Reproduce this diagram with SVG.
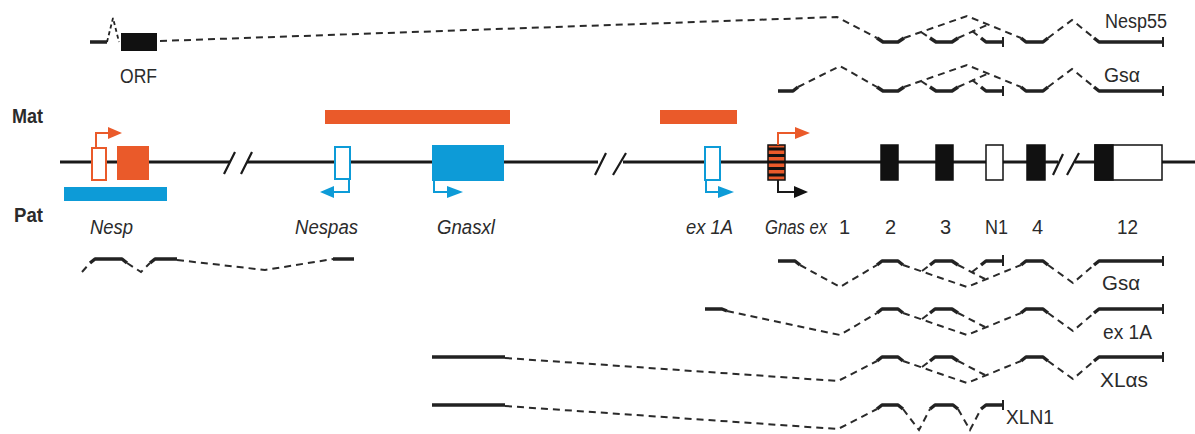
<svg xmlns="http://www.w3.org/2000/svg" width="1195" height="434" viewBox="0 0 1195 434">
<defs>
<style>
.lbl{font-family:"Liberation Sans",Arial,sans-serif;font-size:20px;fill:#2b2b2b}
.it{font-style:italic}
.bold{font-family:"Liberation Sans",Arial,sans-serif;font-size:21px;font-weight:bold;fill:#2b2b2b}
.main{stroke:#1a1a1a;stroke-width:3;fill:none}
.slash{stroke:#1a1a1a;stroke-width:2.2;fill:none}
.dash{stroke:#2a2a2a;stroke-width:2;fill:none;stroke-dasharray:7 5}
.seg{stroke:#222;stroke-width:3.5;fill:none;stroke-linejoin:round}
.bar{stroke:#222;stroke-width:2;fill:none}
.org{fill:#ea5a2a}
.blu{fill:#0d9bd7}
.ob{stroke:#ea5a2a;stroke-width:2;fill:#fff}
.bb{stroke:#0d9bd7;stroke-width:2;fill:#fff}
.oarr{stroke:#ea5a2a;stroke-width:2;fill:none}
.barr{stroke:#0d9bd7;stroke-width:2;fill:none}
.karr{stroke:#1a1a1a;stroke-width:2;fill:none}
.exon{fill:#111;stroke:#111;stroke-width:1.5}
.wexon{fill:#fff;stroke:#111;stroke-width:1.5}
</style>
</defs>
<rect width="1195" height="434" fill="#fff"/>

<g id="genome-line">
<path class="main" d="M60,162H230M247,162H598M623,162H1058M1075,162H1195"/>
<path class="slash" d="M224,174L235,152M241,174L252,152M595,175L606,153M613,175L626,153M1053,175L1063,154M1067,175L1079,153"/>
</g>

<g id="labels-side">
<text class="bold" x="12" y="123" textLength="31" lengthAdjust="spacingAndGlyphs">Mat</text>
<text class="bold" x="14" y="222" textLength="29" lengthAdjust="spacingAndGlyphs">Pat</text>
</g>

<g id="mat-bars">
<rect class="org" x="325" y="110" width="185" height="14"/>
<rect class="org" x="660" y="110" width="77" height="14"/>
</g>

<g id="Nesp">
<rect class="ob" x="92" y="148" width="14" height="32"/>
<rect class="org" x="117" y="146" width="32" height="34"/>
<path class="oarr" d="M96,148V133H109"/>
<path class="org" d="M108,127L122,133L108,139Z"/>
<rect class="blu" x="64" y="187" width="103" height="14"/>
<text class="lbl it" x="90" y="234" textLength="43" lengthAdjust="spacingAndGlyphs">Nesp</text>
</g>

<g id="Nespas">
<rect class="bb" x="335" y="147" width="15" height="32"/>
<path class="barr" d="M349,179V192H332"/>
<path class="blu" d="M334,186L320,192L334,198Z"/>
<text class="lbl it" x="295" y="234" textLength="63" lengthAdjust="spacingAndGlyphs">Nespas</text>
</g>

<g id="Gnasxl">
<rect class="blu" x="432" y="145" width="72" height="36"/>
<path class="barr" d="M434,181V192H449"/>
<path class="blu" d="M447,186L463,192L447,198Z"/>
<text class="lbl it" x="437" y="234" textLength="58" lengthAdjust="spacingAndGlyphs">Gnasxl</text>
</g>

<g id="ex1A">
<rect class="bb" x="705" y="147" width="15" height="33"/>
<path class="barr" d="M706,180V192H720"/>
<path class="blu" d="M718,186L734,192L718,198Z"/>
<text class="lbl it" x="686" y="234" textLength="47" lengthAdjust="spacingAndGlyphs">ex 1A</text>
</g>

<g id="GnasEx1">
<rect class="org" x="768" y="145" width="17" height="35" stroke="#111" stroke-width="1.5"/>
<path stroke="#111" stroke-width="3" d="M768,149H785M768,155.5H785M768,162H785M768,168.5H785M768,175H785"/>
<path class="oarr" d="M778,145V133H796"/>
<path class="org" d="M795,127L810,133L795,139Z"/>
<path class="karr" d="M778,180V192H795"/>
<path fill="#111" d="M794,186L808,192L794,198Z"/>
<text class="lbl it" x="765" y="234" textLength="62" lengthAdjust="spacingAndGlyphs">Gnas ex</text>
<text class="lbl" x="839" y="234">1</text>
</g>

<g id="exon2">
<rect class="exon" x="881" y="145" width="17" height="35"/>
<text class="lbl" x="885" y="234">2</text>
</g>
<g id="exon3">
<rect class="exon" x="936" y="145" width="17" height="35"/>
<text class="lbl" x="940" y="234">3</text>
</g>
<g id="exonN1">
<rect class="wexon" x="986" y="145" width="17" height="35"/>
<text class="lbl" x="985" y="234" textLength="23" lengthAdjust="spacingAndGlyphs">N1</text>
</g>
<g id="exon4">
<rect class="exon" x="1027" y="145" width="18" height="35"/>
<text class="lbl" x="1032" y="234">4</text>
</g>
<g id="exon12">
<rect class="wexon" x="1095" y="145" width="67" height="35"/>
<rect class="exon" x="1095" y="145" width="18" height="35"/>
<text class="lbl" x="1117" y="234" textLength="21" lengthAdjust="spacingAndGlyphs">12</text>
</g>

<g id="tx-Nesp55">
<path class="seg" d="M90,42H107"/>
<path stroke="#222" stroke-width="1.8" fill="none" stroke-dasharray="4 3" d="M107,42L113,18L119,42"/>
<rect x="121" y="33" width="36" height="18" fill="#111"/>
<text class="lbl" x="120" y="83" textLength="37" lengthAdjust="spacingAndGlyphs">ORF</text>
<path class="seg" d="M877,38L883,42H898L904,38"/>
<path class="seg" d="M930,38L936,42H952L958,38"/>
<path class="seg" d="M981,38L986,42H1003"/>
<path class="bar" d="M1003,37V47"/>
<path class="seg" d="M1021,38L1026,42H1043L1048,38"/>
<path class="seg" d="M1094,38L1099,42H1163"/>
<path class="bar" d="M1163,37V47"/>
<text class="lbl" x="1105" y="28" textLength="62" lengthAdjust="spacingAndGlyphs">Nesp55</text>
</g>

<g id="tx-Gsa-top">
<path class="seg" d="M778,91H793L798,87"/>
<path class="seg" d="M877,87L883,91H898L904,87"/>
<path class="seg" d="M930,87L936,91H952L958,87"/>
<path class="seg" d="M981,87L986,91H1003"/>
<path class="bar" d="M1003,86V96"/>
<path class="seg" d="M1021,87L1026,91H1043L1048,87"/>
<path class="seg" d="M1094,87L1099,91H1163"/>
<path class="bar" d="M1163,86V96"/>
<text class="lbl" x="1104" y="82" textLength="36" lengthAdjust="spacingAndGlyphs">Gsα</text>
</g>

<g id="tx-Nesp">
<path class="seg" d="M90,263L95,259H122L127,263"/>
<path class="seg" d="M150,263L155,259H177"/>
<path class="seg" stroke-width="4.5" d="M333,259H354"/>
</g>

<g id="tx-Gsa-low">
<path class="seg" d="M778,261H795L800,265"/>
<path class="seg" d="M877,265L882,261H898L903,265"/>
<path class="seg" d="M930,265L935,261H952L958,265"/>
<path class="seg" d="M981,265L986,261H1003"/>
<path class="bar" d="M1003,255V266"/>
<path class="seg" d="M1021,265L1026,261H1043L1048,265"/>
<path class="seg" d="M1094,265L1099,261H1163"/>
<path class="bar" d="M1163,256V266"/>
<text class="lbl" x="1102" y="290" textLength="38" lengthAdjust="spacingAndGlyphs">Gsα</text>
</g>

<g id="tx-ex1A">
<path class="seg" d="M705,309H722L727,311"/>
<path class="seg" d="M877,313L882,309H898L903,313"/>
<path class="seg" d="M930,313L935,309H952L958,313"/>
<path class="seg" d="M1021,313L1026,309H1043L1048,313"/>
<path class="seg" d="M1094,313L1099,309H1163"/>
<path class="bar" d="M1163,304V314"/>
<text class="lbl" x="1103" y="339" textLength="49" lengthAdjust="spacingAndGlyphs">ex 1A</text>
</g>

<g id="tx-XLas">
<path class="seg" d="M432,357H505"/>
<path class="seg" d="M877,361L882,357H898L903,361"/>
<path class="seg" d="M930,361L935,357H952L958,361"/>
<path class="seg" d="M1021,361L1026,357H1043L1048,361"/>
<path class="seg" d="M1094,361L1099,357H1163"/>
<path class="bar" d="M1163,352V362"/>
<text class="lbl" x="1100" y="387" textLength="48" lengthAdjust="spacingAndGlyphs">XLαs</text>
</g>

<g id="tx-XLN1">
<path class="seg" d="M432,405H505"/>
<path class="seg" d="M877,409L882,405H898L903,409"/>
<path class="seg" d="M930,409L935,405H953L958,409"/>
<path class="seg" d="M981,409L986,405H1003"/>
<path class="bar" d="M1003,400V410"/>
<text class="lbl" x="1006" y="424" textLength="48" lengthAdjust="spacingAndGlyphs">XLN1</text>
</g>

<g id="connectors">
<path class="dash" d="M160,41L837,17L877,38"/>
<path class="dash" d="M904,38L967,16L1021,38"/>
<path class="dash" d="M921,32L930,38"/>
<path class="dash" d="M958,38L987,25"/>
<path class="dash" d="M972,31L981,38"/>
<path class="dash" d="M1048,38L1072,20L1094,38"/>
<path class="dash" d="M798,87L840,66L877,87"/>
<path class="dash" d="M904,87L967,65L1021,87"/>
<path class="dash" d="M921,81L930,87"/>
<path class="dash" d="M958,87L987,74"/>
<path class="dash" d="M972,80L981,87"/>
<path class="dash" d="M1048,87L1072,69L1094,87"/>
<path class="dash" d="M82,272L90,263"/>
<path class="dash" d="M127,263L141,272L150,263"/>
<path class="dash" d="M177,260L265,270L333,259"/>
<path class="dash" d="M800,265L840,287L877,265"/>
<path class="dash" d="M903,265L967,287L1021,265"/>
<path class="dash" d="M922,271L930,265"/>
<path class="dash" d="M958,265L985,279"/>
<path class="dash" d="M972,272L981,265"/>
<path class="dash" d="M1048,265L1073,283L1094,265"/>
<path class="dash" d="M727,311L840,335L877,313"/>
<path class="dash" d="M903,313L967,335L1021,313"/>
<path class="dash" d="M922,319L930,313"/>
<path class="dash" d="M958,313L985,327"/>
<path class="dash" d="M1048,313L1073,331L1094,313"/>
<path class="dash" d="M505,358L838,381L877,361"/>
<path class="dash" d="M903,361L967,383L1021,361"/>
<path class="dash" d="M922,367L930,361"/>
<path class="dash" d="M958,361L985,375"/>
<path class="dash" d="M1048,361L1073,379L1094,361"/>
<path class="dash" d="M505,406L838,429L877,409"/>
<path class="dash" d="M903,409L919,430L930,409"/>
<path class="dash" d="M958,409L970,430L981,409"/>
</g>
</svg>
